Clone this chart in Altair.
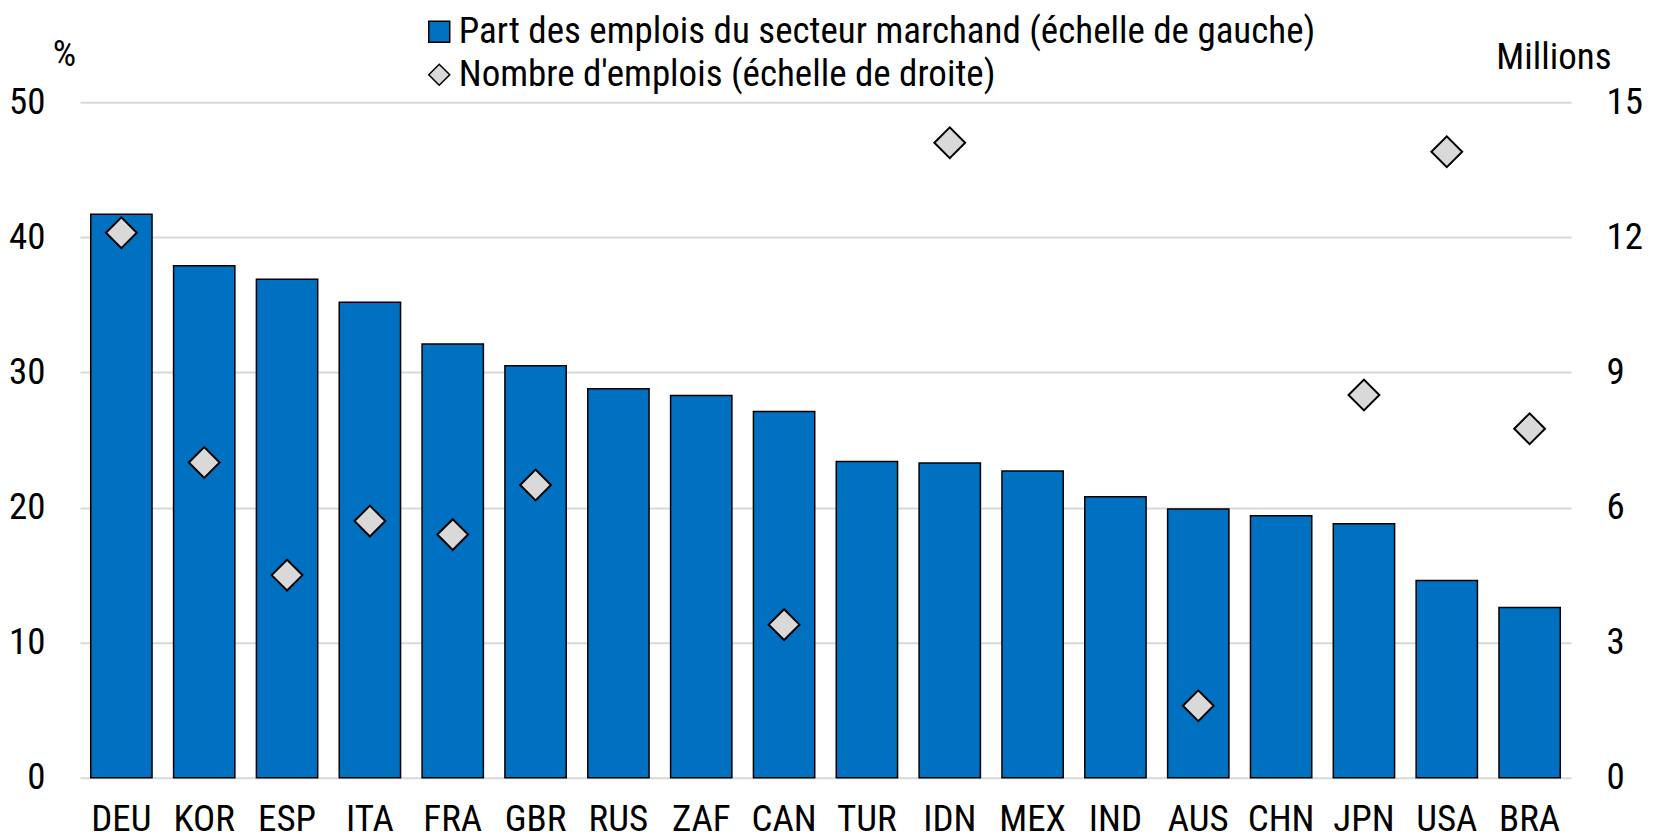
import altair as alt
import pandas as pd

countries = ["DEU", "KOR", "ESP", "ITA", "FRA", "GBR", "RUS", "ZAF", "CAN",
             "TUR", "IDN", "MEX", "IND", "AUS", "CHN", "JPN", "USA", "BRA"]
share = [41.7, 37.9, 36.9, 35.2, 32.1, 30.5, 28.8, 28.3, 27.1,
         23.4, 23.3, 22.7, 20.8, 19.9, 19.4, 18.8, 14.6, 12.6]
jobs = [12.1, 7.0, 4.5, 5.7, 5.4, 6.5, None, None, 3.4,
        None, 14.1, None, None, 1.6, None, 8.5, 13.9, 7.75]

S1 = "Part des emplois du secteur marchand (échelle de gauche)"
S2 = "Nombre d'emplois (échelle de droite)"

FONT = "Roboto Condensed, sans-serif"
FS = 37

bars_df = pd.DataFrame({"country": countries, "value": share, "series": S1})
pts_df = pd.DataFrame({"country": countries, "value": jobs, "series": S2}).dropna()

xenc = alt.X("country:N", sort=countries,
             scale=alt.Scale(paddingInner=0.26, paddingOuter=0.13),
             axis=alt.Axis(title=None, labelAngle=0, ticks=False, tickSize=0,
                           domain=False, labelPadding=24, labelFontSize=FS,
                           labelFont=FONT, labelColor="black"))


def make_legend():
    return alt.Legend(title=None, orient="none", legendX=341, legendY=-89,
                      labelFont=FONT, labelFontSize=FS, labelColor="black",
                      symbolStrokeColor="black", symbolStrokeWidth=1.5,
                      symbolSize=440, rowPadding=5, labelOffset=1,
                      padding=0, labelLimit=1200)


color = alt.Color("series:N",
                  scale=alt.Scale(domain=[S1, S2], range=["#0070C0", "#d9d9d9"]),
                  legend=make_legend())
shape = alt.Shape("series:N",
                  scale=alt.Scale(domain=[S1, S2], range=["square", "diamond"]),
                  legend=make_legend())

bars = alt.Chart(bars_df).mark_bar(stroke="black", strokeWidth=1.5).encode(
    x=xenc,
    y=alt.Y("value:Q", scale=alt.Scale(domain=[0, 50], nice=False),
            axis=alt.Axis(orient="left", values=[0, 10, 20, 30, 40, 50], title="%",
                          titleAngle=0, titleX=-16, titleY=-37, titleAlign="center",
                          titleBaseline="alphabetic", titleFont=FONT, titleFontSize=FS,
                          titleFontWeight="normal", titleColor="black",
                          labelFont=FONT, labelFontSize=FS, labelColor="black",
                          labelPadding=35, ticks=False, tickSize=0, domain=False,
                          grid=True, gridColor="#d9d9d9", gridWidth=2)),
    color=color,
)

pts = alt.Chart(pts_df).mark_point(filled=True, stroke="black", strokeWidth=2,
                                   size=950, opacity=1).encode(
    x=xenc,
    y=alt.Y("value:Q", scale=alt.Scale(domain=[0, 15], nice=False),
            axis=alt.Axis(orient="right", values=[0, 3, 6, 9, 12, 15], title="Millions",
                          titleAngle=0, titleX=40, titleY=-34, titleAlign="right",
                          titleBaseline="alphabetic", titleFont=FONT, titleFontSize=FS,
                          titleFontWeight="normal", titleColor="black",
                          labelFont=FONT, labelFontSize=FS, labelColor="black",
                          labelPadding=35, ticks=False, tickSize=0, domain=False,
                          grid=False)),
    color=color,
    shape=shape,
)

chart = alt.layer(bars, pts).resolve_scale(y="independent").properties(
    width=1492, height=676,
    autosize=alt.AutoSizeParams(type="none"),
    padding={"left": 72, "top": 94, "right": 76, "bottom": 62},
).configure_view(stroke=None)

chart.save("out.html", embed_options={"renderer": "svg", "actions": False})
